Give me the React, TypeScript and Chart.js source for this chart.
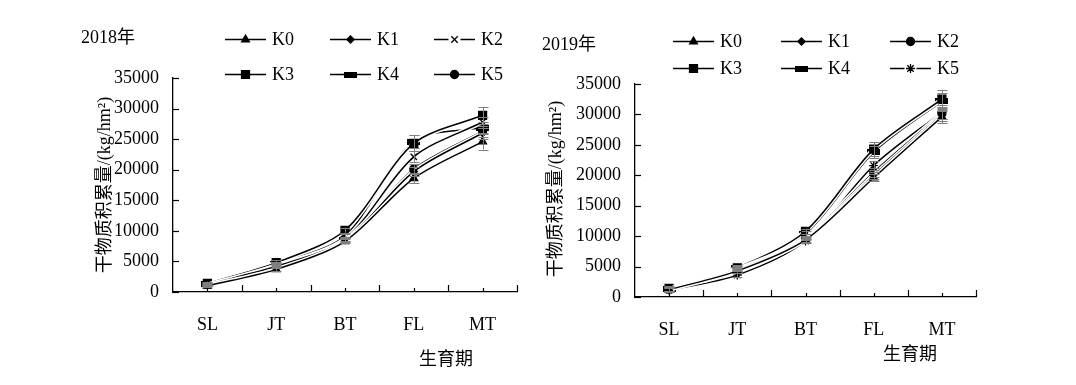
import React, { useEffect, useRef } from 'react';
import { Chart, registerables } from 'chart.js';
import { drawPoint } from 'chart.js/helpers';

Chart.register(...registerables);

const categories = ['SL', 'JT', 'BT', 'FL', 'MT'];
const seriesNames = ['K0', 'K1', 'K2', 'K3', 'K4', 'K5'];
const yTickValues = [0, 5000, 10000, 15000, 20000, 25000, 30000, 35000];

// 2018
const k0_2018 = [1000, 3700, 8300, 18600, 24600];
const k1_2018 = [1200, 4200, 8500, 19700, 26000];
const k2_2018 = [1100, 4300, 8700, 22100, 27800];
const k3_2018 = [1400, 4800, 10100, 24300, 28900];
const k4_2018 = [1300, 4600, 9200, 24600, 26900];
const k5_2018 = [1300, 4400, 8600, 20100, 26300];
const err0_2018 = [200, 300, 300, 800, 1300];
const err1_2018 = [200, 300, 300, 700, 900];
const err2_2018 = [200, 300, 300, 900, 900];
const err3_2018 = [300, 400, 400, 1300, 1400];
const err4_2018 = [200, 300, 300, 1100, 900];
const err5_2018 = [200, 300, 300, 800, 900];

// 2019
const k0_2019 = [1200, 4300, 9400, 19600, 29600];
const k1_2019 = [1300, 4500, 9600, 20000, 29900];
const k2_2019 = [1300, 4600, 9800, 20500, 30200];
const k3_2019 = [1400, 4800, 10800, 24300, 32500];
const k4_2019 = [1300, 4700, 10400, 23800, 32200];
const k5_2019 = [1100, 3600, 9200, 21600, 30400];
const err0_2019 = [300, 300, 300, 600, 1000];
const err1_2019 = [300, 300, 300, 600, 1000];
const err2_2019 = [300, 300, 300, 700, 1000];
const err3_2019 = [400, 400, 400, 1100, 1500];
const err4_2019 = [400, 400, 400, 1000, 1400];
const err5_2019 = [300, 300, 300, 800, 1100];

const FONT = '"Liberation Serif", "Times New Roman", "Noto Sans CJK SC", serif';

type PanelCfg = {
  left: number;
  year: string;
  yearPos: [number, number];
  area: { left: number; right: number; top: number; bottom: number };
  data: number[][];
  errors: number[][];
  markers: string[];
  legendCols: number[];
  legendRows: number[];
  yTitlePos: [number, number];
  xTitlePos: [number, number];
};

const W = 540;
const H = 385;

const panels: PanelCfg[] = [
  {
    left: 0,
    year: '2018年',
    yearPos: [81, 38],
    area: { left: 173, right: 517, top: 78, bottom: 292 },
    data: [k0_2018, k1_2018, k2_2018, k3_2018, k4_2018, k5_2018],
    errors: [err0_2018, err1_2018, err2_2018, err3_2018, err4_2018, err5_2018],
    markers: ['triangle', 'diamond', 'cross', 'square', 'wide', 'circle'],
    legendCols: [225, 330, 434],
    legendRows: [39, 74],
    yTitlePos: [105, 185],
    xTitlePos: [446, 360],
  },
  {
    left: 536,
    year: '2019年',
    yearPos: [6, 45],
    area: { left: 99, right: 440, top: 84, bottom: 297 },
    data: [k0_2019, k1_2019, k2_2019, k3_2019, k4_2019, k5_2019],
    errors: [err0_2019, err1_2019, err2_2019, err3_2019, err4_2019, err5_2019],
    markers: ['triangle', 'diamond', 'circle', 'square', 'wide', 'star'],
    legendCols: [137, 245, 354],
    legendRows: [41, 68],
    yTitlePos: [20, 189],
    xTitlePos: [374, 355],
  },
];

function markerStyle(kind: string, wide: HTMLCanvasElement): { style: any; radius: number } {
  switch (kind) {
    case 'triangle':
      return { style: 'triangle', radius: 4.5 };
    case 'diamond':
      return { style: 'rectRot', radius: 3.6 };
    case 'cross':
      return { style: 'crossRot', radius: 4.5 };
    case 'square':
      return { style: 'rect', radius: 5.6 };
    case 'wide':
      return { style: wide, radius: 5 };
    case 'circle':
      return { style: 'circle', radius: 4 };
    case 'star':
      return { style: 'star', radius: 4.5 };
    default:
      return { style: 'circle', radius: 4 };
  }
}

function Panel({ cfg }: { cfg: PanelCfg }) {
  const ref = useRef<HTMLCanvasElement>(null);

  useEffect(() => {
    const canvas = ref.current!;
    const wide = document.createElement('canvas');
    wide.width = 13;
    wide.height = 6;
    const wc = wide.getContext('2d')!;
    wc.fillStyle = '#000';
    wc.fillRect(0, 0, 13, 6);

    const styles = cfg.markers.map((m) => markerStyle(m, wide));

    const mains = cfg.data.map((d, i) => ({
      label: seriesNames[i],
      data: d,
      borderColor: '#000',
      backgroundColor: '#000',
      borderWidth: 1.5,
      tension: 0.3,
      pointStyle: styles[i].style,
      pointRadius: styles[i].radius,
      pointBackgroundColor: '#000',
      pointBorderColor: '#000',
      pointBorderWidth: 1.3,
      order: 2 * i,
    }));
    const halos = cfg.data.map((d, i) => ({
      label: seriesNames[i] + '_halo',
      data: d,
      borderColor: '#fff',
      borderWidth: 4.5,
      tension: 0.3,
      pointRadius: 0,
      order: 2 * i + 1,
    }));

    const extras = {
      id: 'extras',
      afterDatasetsDraw(chart: any) {
        const ctx = chart.ctx;
        const ys = chart.scales.y;
        ctx.save();
        ctx.strokeStyle = '#7f7f7f';
        ctx.lineWidth = 1;
        cfg.errors.forEach((errs, i) => {
          const meta = chart.getDatasetMeta(i);
          errs.forEach((e, j) => {
            const pt = meta.data[j];
            const v = cfg.data[i][j];
            const yt = ys.getPixelForValue(v + e);
            const yb = ys.getPixelForValue(v - e);
            const x = Math.round(pt.x) + 0.5;
            ctx.beginPath();
            ctx.moveTo(x, yt);
            ctx.lineTo(x, yb);
            ctx.moveTo(x - 5, Math.round(yt) + 0.5);
            ctx.lineTo(x + 5, Math.round(yt) + 0.5);
            ctx.moveTo(x - 5, Math.round(yb) + 0.5);
            ctx.lineTo(x + 5, Math.round(yb) + 0.5);
            ctx.stroke();
          });
        });
        ctx.restore();
      },
      afterDraw(chart: any) {
        const ctx = chart.ctx;
        const area = chart.chartArea;
        const xs = chart.scales.x;
        const ys = chart.scales.y;
        ctx.save();
        ctx.strokeStyle = '#000';
        ctx.lineWidth = 1.2;
        // inward y ticks
        yTickValues.forEach((t) => {
          const y = Math.round(ys.getPixelForValue(t)) + 0.5;
          ctx.beginPath();
          ctx.moveTo(area.left, y);
          ctx.lineTo(area.left + 6, y);
          ctx.stroke();
        });
        // inward x ticks
        const half = (xs.getPixelForValue(1) - xs.getPixelForValue(0)) / 2;
        categories.forEach((_, i) => {
          const c = xs.getPixelForValue(i);
          const b = Math.round(c + half) + 0.5;
          ctx.beginPath();
          ctx.moveTo(b, area.bottom);
          ctx.lineTo(b, area.bottom - 7);
          ctx.stroke();
          const cc = Math.round(c) + 0.5;
          ctx.beginPath();
          ctx.moveTo(cc, area.bottom);
          ctx.lineTo(cc, area.bottom - 4);
          ctx.stroke();
        });

        ctx.fillStyle = '#000';
        ctx.font = '18px ' + FONT;
        ctx.textBaseline = 'middle';
        ctx.textAlign = 'left';
        ctx.fillText(cfg.year, cfg.yearPos[0], cfg.yearPos[1]);

        // legend
        seriesNames.forEach((name, i) => {
          const col = i % 3;
          const row = Math.floor(i / 3);
          const x0 = cfg.legendCols[col];
          const y = cfg.legendRows[row] + 0.5;
          ctx.strokeStyle = '#000';
          ctx.lineWidth = 1.5;
          ctx.beginPath();
          ctx.moveTo(x0, y);
          ctx.lineTo(x0 + 41, y);
          ctx.stroke();
          const st = styles[i];
          const mx = x0 + 20.5;
          if (cfg.markers[i] === 'cross' || cfg.markers[i] === 'star') {
            ctx.fillStyle = '#fff';
            ctx.fillRect(mx - 6, y - 5, 12, 10);
          }
          ctx.fillStyle = '#000';
          ctx.strokeStyle = '#000';
          ctx.lineWidth = 1.3;
          drawPoint(ctx, { pointStyle: st.style, radius: st.radius, rotation: 0, borderWidth: 1.3 } as any, mx, y);
          ctx.fillStyle = '#000';
          ctx.font = '18px ' + FONT;
          ctx.textAlign = 'left';
          ctx.textBaseline = 'middle';
          ctx.fillText(name, x0 + 47, y + 1);
        });

        // y title
        ctx.save();
        ctx.translate(cfg.yTitlePos[0], cfg.yTitlePos[1]);
        ctx.rotate(-Math.PI / 2);
        ctx.textAlign = 'center';
        ctx.textBaseline = 'middle';
        ctx.font = '18px ' + FONT;
        ctx.fillText('干物质积累量/(kg/hm²)', 0, 0);
        ctx.restore();

        // x title
        ctx.textAlign = 'center';
        ctx.textBaseline = 'middle';
        ctx.font = '18px ' + FONT;
        ctx.fillText('生育期', cfg.xTitlePos[0], cfg.xTitlePos[1]);
        ctx.restore();
      },
    };

    const chart = new Chart(canvas, {
      type: 'line',
      data: { labels: categories, datasets: [...mains, ...halos] as any },
      options: {
        responsive: false,
        animation: false,
        devicePixelRatio: 1,
        layout: {
          padding: { left: 0, right: W - cfg.area.right, top: cfg.area.top, bottom: 0 },
        },
        plugins: {
          legend: { display: false },
          tooltip: { enabled: false },
          title: { display: false },
        },
        scales: {
          x: {
            type: 'category',
            offset: true,
            grid: { display: false, drawTicks: false, offset: true },
            border: { display: true, color: '#000', width: 1.3 },
            ticks: { color: '#000', font: { family: FONT, size: 18 }, padding: 22, maxRotation: 0 },
            afterFit: (s: any) => {
              s.height = H - cfg.area.bottom;
            },
          },
          y: {
            min: 0,
            max: 35000,
            grid: { display: false, drawTicks: false },
            border: { display: true, color: '#000', width: 1.3 },
            ticks: {
              stepSize: 5000,
              color: '#000',
              font: { family: FONT, size: 18 },
              padding: 14,
              callback: (v: any) => String(v),
            },
            afterFit: (s: any) => {
              s.width = cfg.area.left;
            },
          },
        },
      },
      plugins: [extras],
    } as any);
    return () => chart.destroy();
  }, [cfg]);

  return (
    <canvas
      ref={ref}
      width={W}
      height={H}
      style={{ position: 'absolute', left: cfg.left, top: 0, width: W, height: H }}
    />
  );
}

export default function App() {
  return (
    <div style={{ position: 'absolute', left: 0, top: 0, width: 1076, height: 385, background: '#fff' }}>
      {panels.map((p, i) => (
        <Panel key={i} cfg={p} />
      ))}
    </div>
  );
}
